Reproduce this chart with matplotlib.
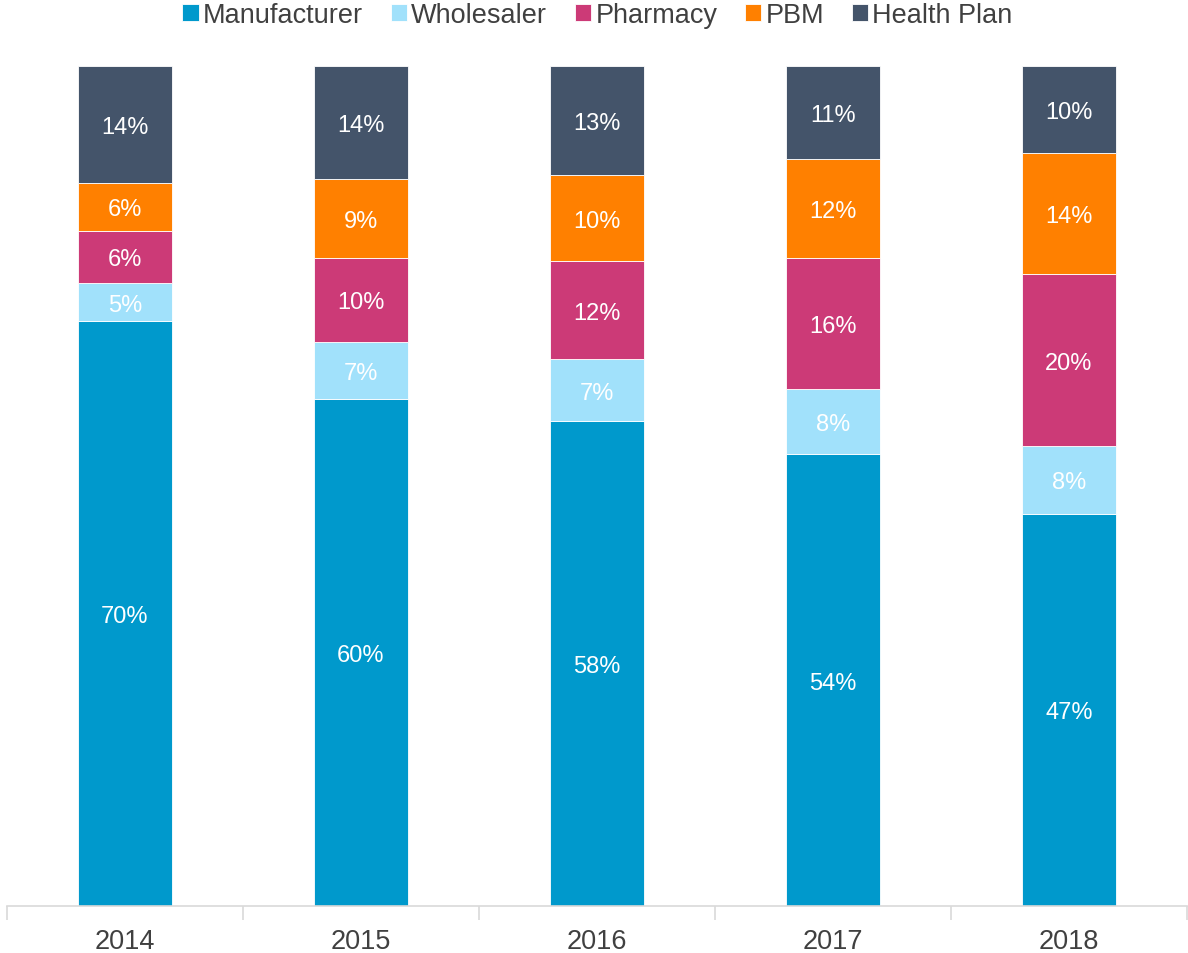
import numpy as np
import matplotlib.pyplot as plt

plt.rcParams['font.family'] = ['Liberation Sans', 'DejaVu Sans']

# Anos e parcelas (%)
anos = ['2014', '2015', '2016', '2017', '2018']
manufacturer = [69.6, 60.4, 57.7, 53.8, 46.7]
wholesaler = [4.6, 6.8, 7.4, 7.7, 8.1]
pharmacy = [6.2, 9.9, 11.7, 15.6, 20.4]
pbm = [5.7, 9.4, 10.2, 11.8, 14.4]
health_plan = [13.9, 13.5, 13.0, 11.1, 10.4]

series = [
    ('Manufacturer', manufacturer, '#0099CC'),
    ('Wholesaler', wholesaler, '#A1E1FB'),
    ('Pharmacy', pharmacy, '#CC3A77'),
    ('PBM', pbm, '#FF8000'),
    ('Health Plan', health_plan, '#44546A'),
]

fig = plt.figure(figsize=(11.88, 9.54), dpi=100)
ax = fig.add_axes([7 / 1188, 47 / 954, 1180 / 1188, 840 / 954])

x = np.arange(len(anos))
base = np.zeros(len(anos))
for nome, vals, cor in series:
    vals = np.array(vals)
    ax.bar(x, vals, 0.4, bottom=base, color=cor, label=nome,
           edgecolor='white', linewidth=0.6)
    for xi, b, v in zip(x, base, vals):
        ax.text(xi, b + v / 2, f'{round(v):.0f}%', ha='center',
                va='center_baseline', color='white', fontsize=17)
    base += vals

ax.set_xlim(-0.5, len(anos) - 0.5)
ax.set_ylim(0, base.max())
ax.set_xticks(x)
ax.set_xticklabels(anos, fontsize=19.5, color='#404040')
ax.set_xticks(np.arange(-0.5, len(anos)), minor=True)
ax.tick_params(axis='x', which='major', length=0, pad=16)
ax.tick_params(axis='x', which='minor', length=10, color='#D9D9D9', width=1.2)
ax.set_yticks([])
for s in ['left', 'right', 'top']:
    ax.spines[s].set_visible(False)
ax.spines['bottom'].set_color('#D9D9D9')
ax.spines['bottom'].set_linewidth(1.2)

fig.legend(loc='upper center', bbox_to_anchor=(0.503, 1.022), ncol=5,
           frameon=False, fontsize=19.5, handlelength=0.6, handleheight=0.6,
           handletextpad=0.15, columnspacing=1.03, labelcolor='#404040')

fig.savefig('out.png', dpi=100)
